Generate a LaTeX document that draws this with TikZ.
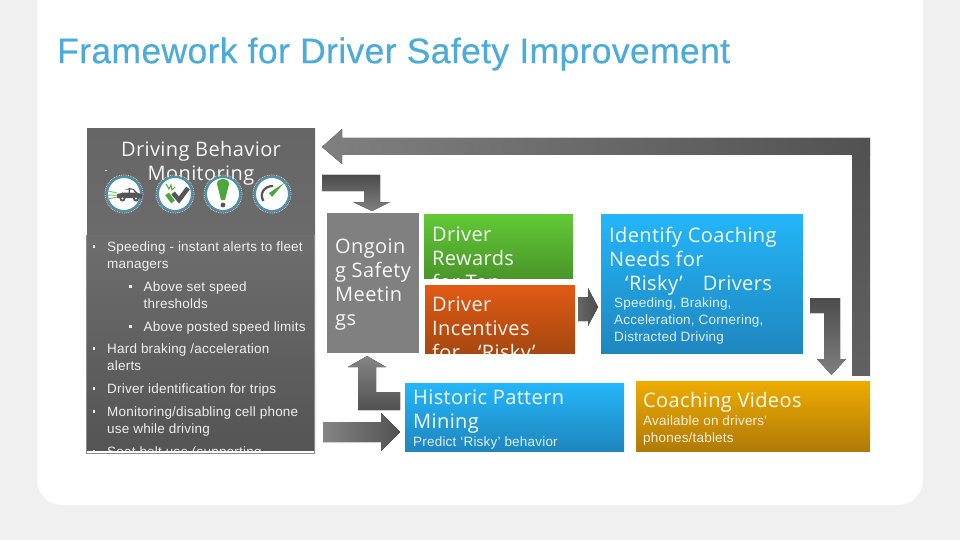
\documentclass[tikz,border=0pt]{standalone}
\usepackage{fontspec}
\setmainfont{Liberation Sans}
\newfontfamily\seg[LetterSpace=2]{Open Sans}
\newfontfamily\bod[LetterSpace=1.5]{Liberation Sans}
\newfontfamily\ttlf[LetterSpace=1,FakeBold=0.4]{Liberation Sans}
\definecolor{ttl}{HTML}{4BACDA}
\definecolor{tl}{HTML}{4A93AE}
\definecolor{gn}{HTML}{4CA83A}
\definecolor{dk}{HTML}{555555}
\definecolor{pagebg}{HTML}{F0F0F0}
\definecolor{grnA}{HTML}{62C936}
\definecolor{grnB}{HTML}{4A962A}
\definecolor{orgA}{HTML}{E25A14}
\definecolor{orgB}{HTML}{A54810}
\definecolor{bluA}{HTML}{23B6FA}
\definecolor{bluB}{HTML}{1F86BE}
\definecolor{golA}{HTML}{EEAC00}
\definecolor{golB}{HTML}{B07A08}
\tikzset{
 x=1pt,y=-1pt,
 headtxt/.style={text=white,text opacity=.95,align=left,anchor=north west,inner sep=0pt,font=\seg\fontsize{20}{24}\selectfont},
 smalltxt/.style={text=white,text opacity=.85,align=left,anchor=north west,inner sep=0pt,font=\bod\fontsize{13.5}{17}\selectfont},
 bodytxt/.style={text=white,text opacity=.9,align=left,anchor=north west,inner sep=0pt,font=\bod\fontsize{13.5}{17}\selectfont},
 ring/.style={fill=white,draw=tl,line width=2pt},
}
\newcommand{\bulitem}[4]{% name, bullet x, y top, text
 \fill[white,opacity=.9] (#2-1.2,#3+3.4) rectangle +(2.6,2.6);
 \node[bodytxt] (#1) at (#2+13,#3) {#4};
}
\begin{document}
\begin{tikzpicture}
\useasboundingbox (0,0) rectangle (960,540);
\fill[pagebg] (0,0) rectangle (960,540);
\fill[white,rounded corners=25pt] (37,-40) rectangle (923,505);
\node[anchor=west,inner sep=0pt,text=ttl,font=\ttlf\fontsize{35.5}{38}\selectfont] (title) at (57,54) {Framework for Driver Safety Improvement};

% left panel
\fill[top color=black!60,bottom color=black!58] (87,129) rectangle (315,235);
\fill[top color=black!57,bottom color=black!67] (87,235) rectangle (315,451);
\draw[black!45,line width=.9pt] (86.5,235) -- (86.5,453.5) -- (314.5,453.5) -- (314.5,235);
\fill[white] (87,451) rectangle (314,453);
\begin{scope}
\clip (87,129) rectangle (315,451);
\node[headtxt,align=center,anchor=north] (hdr) at (201,141.5) {Driving Behavior\\Monitoring};
\node[text=white,inner sep=0pt,font=\fontsize{9}{9}\selectfont] (dash) at (106,172) {-};
\bulitem{b1}{94}{242}{Speeding - instant alerts to fleet\\managers}
\bulitem{b2}{130.5}{282}{Above set speed\\thresholds}
\bulitem{b3}{130.5}{322}{Above posted speed limits}
\bulitem{b4}{94}{344}{Hard braking /acceleration\\alerts}
\bulitem{b5}{94}{384}{Driver identification for trips}
\bulitem{b6}{94}{407}{Monitoring/disabling cell phone\\use while driving}
\bulitem{b7}{94}{447}{Seat belt use (supporting}
\end{scope}
% icons
\foreach \n/\c in {i1/124,i2/175,i3/223,i4/272}{
 \node[circle,ring,minimum size=34,inner sep=0pt] (\n) at (\c,194) {};
 \draw[white!75!tl,line width=.8pt,densely dotted] (\n) circle[radius=19];
}
% car
\fill[dk] (117,198) -- (117,194) -- (122,193) .. controls (126,186.5) and (134,186.5) .. (137,192.5) -- (142,194.5) -- (142,198) -- cycle;
\fill[white] (124.5,189.5) -- (128.5,189.5) -- (128.5,192.5) -- (122.5,192.5) -- cycle (130,189.5) -- (132.5,189.5) -- (135,192.5) -- (130,192.5) -- cycle;
\fill[dk] (122.5,198.5) circle[radius=3] (136,198.5) circle[radius=3];
\fill[white] (122.5,198.5) circle[radius=1.1] (136,198.5) circle[radius=1.1];
\draw[gn!70!white,line width=1pt] (108,191) -- (117,193) (108,195) -- (117,195) (108,199) -- (117,197);
% check
\draw[dk,line width=4.5pt] (173,193) -- (179,200) -- (188,188);
\draw[gn,line width=4.5pt] (167,194) -- (173,202);
\draw[gn,line width=1pt] (166,184) -- (169,189) -- (171,185) -- (172,190) -- (175,187);
% exclamation
\fill[gn] (217,184) .. controls (217,177) and (229,177) .. (229,184) -- (225,200) -- (221,200) -- cycle;
\fill[dk] (223,205) circle[radius=2.4];
% gauge
\draw[dk,line width=2.2pt] (263.5,201) .. controls (259,194) and (264,186) .. (273,186);
\fill[gn] (284,183) -- (269,193) -- (272,197) -- cycle;

% feedback arrow
\fill[left color=black!50,right color=black!68] (322,147) -- (342,129) -- (342,138) -- (870,138) -- (870,155) -- (342,155) -- (342,164) -- cycle;
\fill[top color=black!68,bottom color=black!62] (852,155) rectangle (870,375);
% down bent
\fill[top color=black!70,bottom color=black!50] (322,175) -- (380,175) -- (380,202) -- (390,202) -- (372,211) -- (353,202) -- (364,202) -- (364,191) -- (322,191) -- cycle;

% ongoing
\fill[black!50] (327,213) rectangle (419,353);
\node[headtxt] (ongoing) at (335,239) {Ongoin\\g Safety\\Meetin\\gs};

% green
\fill[top color=grnA,bottom color=grnB] (424,214) rectangle (573,278);
\begin{scope}
\clip (424,214) rectangle (573,278);
\node[headtxt] (rewards) at (432,226.5) {Driver\\Rewards\\for Top};
\end{scope}
% orange
\fill[top color=orgA,bottom color=orgB] (425,285) rectangle (575,353);
\begin{scope}
\clip (425,285) rectangle (575,353);
\node[headtxt] (incent) at (432,297) {Driver\\Incentives\\for\hspace{18pt}‘Risky’};
\end{scope}
% arrow to identify
\fill[left color=black!60,right color=black!70] (578,297) -- (588,297) -- (588,288) -- (598,307) -- (588,326) -- (588,321) -- (578,321) -- cycle;

% identify
\fill[top color=bluA,bottom color=bluB] (601,214) rectangle (803,353);
\node[headtxt] (ident) at (609,226.5) {Identify Coaching\\Needs for\\\hspace{16pt}‘Risky’\hspace{20pt}Drivers};
\node[smalltxt] (identb) at (614,298) {Speeding, Braking,\\Acceleration, Cornering,\\Distracted Driving};

% bent to coaching
\fill[top color=black!70,bottom color=black!50] (810,298) -- (840,298) -- (840,359) -- (846,359) -- (831.5,375) -- (817,359) -- (824,359) -- (824,313) -- (810,313) -- cycle;

% up bent
\fill[top color=black!48,bottom color=black!68] (367,356) -- (386,367) -- (376,367) -- (376,392) -- (400,392) -- (400,410) -- (358,410) -- (358,367) -- (348,367) -- cycle;
% right arrow
\fill[left color=black!48,right color=black!68] (323,422) -- (381,422) -- (381,413) -- (400,432) -- (381,451) -- (381,442) -- (323,442) -- cycle;

% historic
\fill[top color=bluA,bottom color=bluB] (405,383) rectangle (624,451);
\node[headtxt] (hist) at (413,390) {Historic Pattern\\Mining};
\node[smalltxt] (histb) at (413,437) {Predict ‘Risky’ behavior};

% coaching
\fill[top color=golA,bottom color=golB] (636,381) rectangle (870,451);
\node[headtxt] (coach) at (643,392) {Coaching Videos};
\node[smalltxt] (coachb) at (643,416) {Available on drivers'\\phones/tablets};
\end{tikzpicture}
\end{document}
